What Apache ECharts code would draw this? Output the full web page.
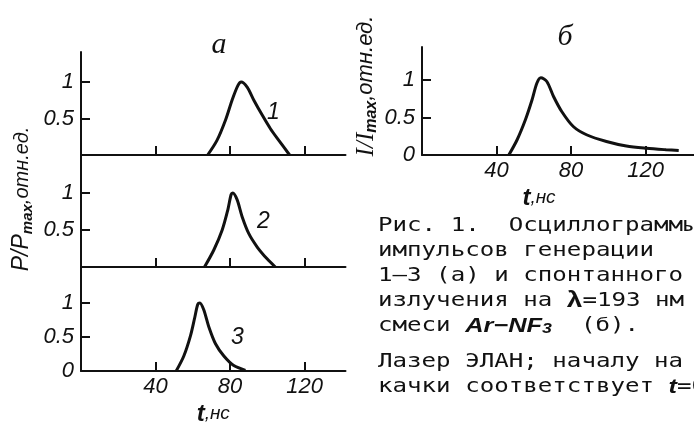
<!DOCTYPE html>
<html>
<head>
<meta charset="utf-8">
<script src="https://cdn.jsdelivr.net/npm/echarts@6/dist/echarts.min.js"></script>
<style>
  html, body { margin: 0; padding: 0; background: #fff; }
  #main { width: 694px; height: 427px; }
</style>
</head>
<body>
<div id="main"></div>
<script>
// --- data ---
var timeTicks = [40, 80, 120];                 // t, ns
var ticksA = [0.5, 1];                         // upper two panels: no "0"
var ticksB = [0, 0.5, 1];                      // bottom panel and panel б

// generation pulses (panel а), [t ns, P/Pmax]
var pulse1 = [[68, 0], [73, 0.2], [77.6, 0.48], [81.1, 0.75], [84.2, 0.95], [86, 1], [89.2, 0.93],
  [92.8, 0.75], [97.2, 0.55], [101.7, 0.36], [106.2, 0.2], [112, 0]];
var pulse2 = [[66.3, 0], [71.3, 0.23], [75.8, 0.5], [78.8, 0.77], [80.6, 0.98], [81.5, 1], [83.8, 0.91],
  [86.5, 0.68], [90.1, 0.45], [94.6, 0.27], [99.9, 0.11], [104.3, 0]];
var pulse3 = [[51.1, 0], [55.2, 0.22], [58.8, 0.52], [61.1, 0.79], [62.7, 0.98], [63.8, 1], [65.9, 0.9],
  [68.6, 0.65], [72.2, 0.4], [76.7, 0.22], [82, 0.08], [88.3, 0.01]];
// spontaneous emission at 193 nm (panel б), [t ns, I/Imax]
var spont = [[46.6, 0], [51, 0.2], [55.5, 0.47], [59, 0.73], [61.7, 0.96], [63.8, 1.03], [67, 0.98],
  [70.6, 0.78], [75, 0.58], [81.2, 0.38], [88.3, 0.27], [99, 0.18], [109.7, 0.12], [120.4, 0.09],
  [131, 0.07], [137.8, 0.06]];

var curveNames = ['1', '2', '3'];
var curveLabelAt = [[103.3, 0.58], [97.9, 0.62], [84, 0.49]];

var captionLines = [
  'Рис. 1.  Осциллограммы',
  'импульсов генерации',
  '1–3 (а) и спонтанного',
  'излучения на {l|λ}=193 нм',
  'смеси {h|Ar−NF}{hs|3}  (б).',
  'Лазер ЭЛАН; началу на',
  'качки соответствует {h|t}=0'
];

(function() {
  var ink = '#111';
  var numFont = 'Liberation Sans';
  var chart = echarts.init(document.getElementById('main'), null, { renderer: 'canvas' });

  var numStyle = { color: ink, fontFamily: numFont, fontStyle: 'italic', fontSize: 22 };
  var tNameRich = {
    t: { color: ink, fontFamily: numFont, fontStyle: 'italic', fontWeight: 'bold', fontSize: 24 },
    u: { color: ink, fontFamily: numFont, fontStyle: 'italic', fontSize: 19 }
  };

  function xAxis(gi, max, labels, nameShift) {
    var ax = {
      type: 'value', gridIndex: gi, min: 0, max: max,
      axisLine: { lineStyle: { color: ink, width: 2 } },
      axisTick: { inside: true, length: 9, customValues: timeTicks, lineStyle: { color: ink, width: 2 } },
      axisLabel: Object.assign({ show: labels, customValues: timeTicks, margin: 5 }, numStyle),
      splitLine: { show: false }
    };
    if (labels) {
      ax.name = '{t|t}{u|,нс}';
      ax.nameLocation = 'middle';
      ax.nameGap = 31;
      ax.nameTextStyle = { rich: tNameRich, padding: [0, nameShift || 0, 0, 0] };
    }
    return ax;
  }

  function yAxis(gi, max, ticks) {
    return {
      type: 'value', gridIndex: gi, min: 0, max: max,
      axisLine: { show: true, lineStyle: { color: ink, width: 2 } },
      axisTick: { show: true, inside: true, length: 9, customValues: [0.5, 1], lineStyle: { color: ink, width: 2 } },
      axisLabel: Object.assign({ customValues: ticks, margin: 7 }, numStyle),
      splitLine: { show: false }
    };
  }

  function pulse(idx, data) {
    var s = {
      type: 'line', xAxisIndex: idx, yAxisIndex: idx, data: data,
      smooth: 0.3, symbol: 'none', silent: true,
      lineStyle: { color: ink, width: 3 }
    };
    if (idx < 3) {
      s.markPoint = {
        symbolSize: 0, silent: true,
        label: Object.assign({ show: true, position: 'inside', formatter: curveNames[idx] }, numStyle, { fontSize: 23 }),
        data: [{ coord: curveLabelAt[idx] }]
      };
    }
    return s;
  }

  var captionRich = {
    l: { fill: ink, fontFamily: numFont, fontWeight: 'bold', fontSize: 22 },
    h: { fill: ink, fontFamily: numFont, fontStyle: 'italic', fontWeight: 'bold', fontSize: 20 },
    hs: { fill: ink, fontFamily: numFont, fontStyle: 'italic', fontWeight: 'bold', fontSize: 14,
          lineHeight: 12, verticalAlign: 'bottom' }
  };

  var graphics = [
    { type: 'text', x: 219, y: 45, style: { text: 'а', fill: ink, font: 'italic 30px "Liberation Serif"',
      textAlign: 'center', textVerticalAlign: 'middle' } },
    { type: 'text', x: 565, y: 37, style: { text: 'б', fill: ink, font: 'italic 30px "Liberation Serif"',
      textAlign: 'center', textVerticalAlign: 'middle' } },
    { type: 'text', x: 22, y: 199, rotation: Math.PI / 2, style: {
      text: '{a|P/P}{s|max}{b|,отн.ед.}', textAlign: 'center', textVerticalAlign: 'middle',
      rich: {
        a: { fill: ink, font: 'italic 23px "Liberation Sans"', lineHeight: 26, verticalAlign: 'middle' },
        s: { fill: ink, font: 'italic bold 15px "Liberation Sans"', lineHeight: 12, verticalAlign: 'bottom' },
        b: { fill: ink, font: 'italic 20px "Liberation Sans"', lineHeight: 26, verticalAlign: 'middle' }
      } } },
    { type: 'text', x: 366, y: 86, rotation: Math.PI / 2, style: {
      text: '{a|I/I}{s|max}{b|,отн.ед.}', textAlign: 'center', textVerticalAlign: 'middle',
      rich: {
        a: { fill: ink, font: 'italic 25px "Liberation Serif"', lineHeight: 28, verticalAlign: 'middle' },
        s: { fill: ink, font: 'italic bold 16px "Liberation Sans"', lineHeight: 12, verticalAlign: 'bottom' },
        b: { fill: ink, font: 'italic 22px "Liberation Sans"', lineHeight: 28, verticalAlign: 'middle' }
      } } }
  ];

  // caption: typewriter lines, a paragraph gap before "Лазер ЭЛАН"
  captionLines.forEach(function(line, i) {
    graphics.push({
      type: 'text', x: 378, y: 226 + i * 25 + (i >= 5 ? 11 : 0), scaleX: 1.27,
      style: {
        text: line, fill: ink, font: '19px "DejaVu Sans Mono"',
        textAlign: 'left', textVerticalAlign: 'middle', rich: captionRich
      }
    });
  });

  chart.setOption({
    animation: false,
    backgroundColor: '#fff',
    grid: [
      { left: 81, top: 52, width: 264.5, height: 103 },
      { left: 81, top: 155, width: 264.5, height: 112 },
      { left: 81, top: 267, width: 264.5, height: 110 },
      { left: 422, top: 47, width: 274, height: 108 }
    ],
    xAxis: [
      xAxis(0, 142, false),
      xAxis(1, 142, false),
      xAxis(2, 142, true, 0),
      xAxis(3, 146, true, 38)
    ],
    yAxis: [
      yAxis(0, 103 / 73, ticksA),
      yAxis(1, 112 / 74, ticksA),
      yAxis(2, 110 / 72, ticksB),
      yAxis(3, 108 / 75, ticksB)
    ],
    series: [pulse(0, pulse1), pulse(1, pulse2), pulse(2, pulse3), pulse(3, spont)],
    graphic: graphics
  });
  window.addEventListener('resize', function() { chart.resize(); });
})();
</script>
</body>
</html>
